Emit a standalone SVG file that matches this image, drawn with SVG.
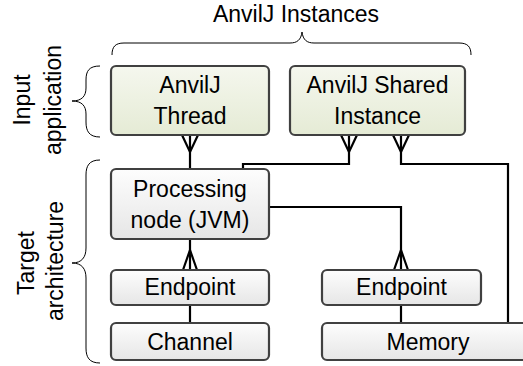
<svg xmlns="http://www.w3.org/2000/svg" width="523" height="366" viewBox="0 0 523 366">
  <defs>
    <linearGradient id="gGreen" x1="0" y1="0" x2="0" y2="1">
      <stop offset="0" stop-color="#f5f7ee"/>
      <stop offset="1" stop-color="#e5ebd5"/>
    </linearGradient>
    <linearGradient id="gGray" x1="0" y1="0" x2="0" y2="1">
      <stop offset="0" stop-color="#fdfdfd"/>
      <stop offset="1" stop-color="#e6e6e6"/>
    </linearGradient>
  </defs>
  <style>
    text { font-family: "Liberation Sans", Arial, sans-serif; font-size: 23px; fill: #000; text-anchor: middle; }
    .inst { fill: url(#gGreen); stroke: #404040; stroke-width: 2.2; }
    .arch { fill: url(#gGray); stroke: #404040; stroke-width: 2.2; }
    .brace { fill: none; stroke: #000; stroke-width: 1; }
    .conn { fill: none; stroke: #000; stroke-width: 2.2; stroke-linejoin: miter; }
  </style>
  <rect width="523" height="366" fill="#fff"/>

  <!-- group labels and braces -->
  <g id="labels">
    <text x="296" y="22">AnvilJ Instances</text>
    <path class="brace" d="M112,55 C112,47 115,43 124,43 H290 C297,43 301,40 302,32 C303,40 307,43 314,43 H459 C468,43 471,47 471,55"/>
    <text transform="translate(30,100) rotate(-90)">Input</text>
    <text transform="translate(61,100) rotate(-90)">application</text>
    <path class="brace" d="M100,66 C89,66 86,71 86,80 V88 C86,96 82,101 72,101 C82,101 86,106 86,114 V122 C86,131 89,137 100,137"/>
    <text transform="translate(34,263) rotate(-90)">Target</text>
    <text transform="translate(63,261) rotate(-90)">architecture</text>
    <path class="brace" d="M100,160 C89,160 86,166 86,175 V248 C86,257 82,263 72,263 C82,263 86,269 86,278 V348 C86,357 89,363 100,363"/>
  </g>

  <!-- connectors -->
  <g id="connectors">
    <path class="conn" d="M190,135 V169"/>
    <path class="conn" d="M182,135 L190,152 L198,135"/>
    <path class="conn" d="M243,169 V164 H349 V135"/>
    <path class="conn" d="M341,135 L349,152 L357,135"/>
    <path class="conn" d="M401,135 V164 H508 V323"/>
    <path class="conn" d="M393,135 L401,152 L409,135"/>
    <path class="conn" d="M269,207 H401 V270"/>
    <path class="conn" d="M394,270 L401,250 L408,270"/>
    <path class="conn" d="M190,239 V270"/>
    <path class="conn" d="M183,270 L190,250 L197,270"/>
    <path class="conn" d="M190,305 V323"/>
    <path class="conn" d="M401,305 V323"/>
  </g>

  <!-- nodes -->
  <g id="anvilj-thread">
    <rect class="inst" x="111" y="66" width="158" height="69" rx="5"/>
    <text x="190" y="93">AnvilJ</text>
    <text x="190" y="124">Thread</text>
  </g>
  <g id="anvilj-shared">
    <rect class="inst" x="290" y="66" width="175" height="69" rx="5"/>
    <text x="377.5" y="93">AnvilJ Shared</text>
    <text x="377.5" y="124">Instance</text>
  </g>
  <g id="processing-node">
    <rect class="arch" x="111" y="169" width="158" height="70" rx="5"/>
    <text x="190" y="197">Processing</text>
    <text x="190" y="228">node (JVM)</text>
  </g>
  <g id="endpoint-left">
    <rect class="arch" x="111" y="270" width="158" height="35" rx="5"/>
    <text x="190" y="295">Endpoint</text>
  </g>
  <g id="endpoint-right">
    <rect class="arch" x="322" y="270" width="159" height="35" rx="5"/>
    <text x="401.5" y="295">Endpoint</text>
  </g>
  <g id="channel">
    <rect class="arch" x="111" y="323" width="158" height="37" rx="5"/>
    <text x="190" y="350">Channel</text>
  </g>
  <g id="memory">
    <rect class="arch" x="322" y="323" width="212" height="37" rx="5"/>
    <text x="428" y="350">Memory</text>
  </g>
</svg>
